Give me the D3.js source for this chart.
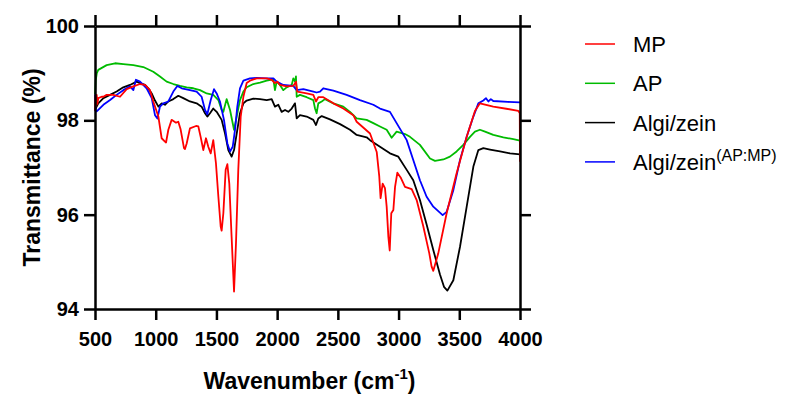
<!doctype html>
<html lang="en">
<head>
  <meta charset="utf-8">
  <title>FTIR spectra</title>
  <style>
    body { margin: 0; background: #fff; }
    svg { font-family: "Liberation Sans", Arial, sans-serif; }
  </style>
</head>
<body>
<svg id="chart"></svg>
<script src="https://d3js.org/d3.v7.min.js"></script>
<script>
var width = 788;
var height = 400;

// [wavenumber, transmittance]
var mp = [[500,98.20],[505,98.52],[510,98.30],[514,98.54],[520,98.35],[527,98.47],[555,98.50],[569,98.50],
  [596,98.54],[651,98.54],[706,98.50],[761,98.66],[816,98.72],[871,98.77],[912,98.75],[953,98.64],[980,98.40],
  [1022,98.08],[1049,97.62],[1076,97.55],[1085,97.53],[1104,97.80],[1131,98.01],[1167,97.95],[1186,97.97],
  [1205,97.81],[1233,97.41],[1241,97.39],[1255,97.51],[1282,97.83],[1332,97.88],[1351,97.87],[1370,97.65],
  [1392,97.37],[1414,97.62],[1433,97.44],[1453,97.30],[1474,97.58],[1496,97.09],[1516,96.38],[1535,95.75],
  [1543,95.66],[1557,96.03],[1576,96.95],[1590,97.07],[1606,96.66],[1625,95.53],[1645,94.37],[1661,95.39],
  [1680,96.95],[1700,98.08],[1722,98.50],[1749,98.79],[1776,98.84],[1831,98.89],[1914,98.89],[1955,98.86],
  [1982,98.79],[2001,98.82],[2023,98.75],[2078,98.72],[2133,98.73],[2155,98.82],[2166,98.61],[2243,98.57],
  [2298,98.54],[2320,98.40],[2339,98.49],[2380,98.49],[2463,98.36],[2545,98.25],[2627,98.11],[2655,97.97],
  [2765,97.72],[2820,97.33],[2841,96.81],[2852,96.35],[2869,96.66],[2888,96.56],[2902,96.17],[2916,95.53],
  [2927,95.24],[2940,96.03],[2957,96.10],[2971,96.59],[2990,96.89],[3017,96.79],[3053,96.59],[3108,96.54],
  [3149,96.31],[3204,95.75],[3253,95.18],[3272,94.90],[3286,94.81],[3327,95.18],[3396,96.03],[3478,96.88],
  [3561,97.65],[3629,98.20],[3670,98.36],[3780,98.29],[3900,98.24],[3986,98.20],[3998,98.15],[4000,97.12]];

var ap = [[500,98.55],[506,98.85],[515,99.00],[527,99.07],[596,99.17],[665,99.21],[733,99.19],[816,99.17],[898,99.13],
  [980,99.03],[1035,98.93],[1090,98.82],[1145,98.77],[1200,98.73],[1255,98.70],[1310,98.68],[1365,98.64],
  [1420,98.57],[1474,98.54],[1516,98.43],[1543,98.22],[1557,98.18],[1584,98.45],[1612,98.22],[1645,97.80],
  [1667,98.08],[1694,98.43],[1722,98.61],[1749,98.70],[1804,98.77],[1859,98.80],[1914,98.84],[1969,98.87],
  [1982,98.64],[1996,98.82],[2023,98.75],[2051,98.64],[2078,98.70],[2120,98.75],[2133,98.89],[2147,98.82],
  [2155,98.93],[2161,98.50],[2188,98.54],[2243,98.49],[2298,98.43],[2312,98.25],[2325,98.15],[2339,98.36],
  [2367,98.40],[2394,98.45],[2463,98.36],[2545,98.29],[2600,98.18],[2655,98.04],[2737,98.01],[2792,97.94],
  [2847,97.87],[2902,97.80],[2943,97.63],[2984,97.76],[3053,97.71],[3094,97.65],[3176,97.48],[3259,97.19],
  [3300,97.14],[3369,97.17],[3423,97.23],[3478,97.34],[3533,97.48],[3588,97.65],[3629,97.76],[3670,97.80],
  [3712,97.76],[3780,97.69],[3863,97.64],[3945,97.60],[4000,97.57]];

var algiZein = [[500,98.22],[527,98.36],[569,98.47],[624,98.54],[678,98.61],[733,98.70],[788,98.75],[843,98.82],
  [871,98.79],[912,98.75],[939,98.68],[967,98.57],[994,98.42],[1022,98.29],[1049,98.36],[1076,98.33],
  [1104,98.40],[1145,98.45],[1186,98.52],[1227,98.47],[1282,98.40],[1337,98.36],[1378,98.29],[1406,98.15],
  [1425,98.08],[1447,98.15],[1474,98.25],[1502,98.18],[1543,98.01],[1571,97.72],[1598,97.37],[1625,97.23],
  [1645,97.37],[1667,97.72],[1694,98.15],[1722,98.36],[1749,98.42],[1804,98.46],[1859,98.45],[1914,98.43],
  [1955,98.45],[1982,98.29],[2010,98.33],[2037,98.18],[2065,98.22],[2092,98.18],[2120,98.25],[2147,98.36],
  [2161,98.04],[2188,98.11],[2243,98.08],[2298,98.01],[2320,97.90],[2339,98.04],[2367,98.09],[2435,98.02],
  [2518,97.92],[2600,97.80],[2655,97.69],[2737,97.64],[2765,97.58],[2847,97.44],[2929,97.30],[2998,97.23],
  [3067,96.95],[3121,96.73],[3176,96.31],[3231,95.79],[3286,95.25],[3341,94.73],[3374,94.47],[3402,94.39],
  [3451,94.61],[3506,95.32],[3561,96.17],[3616,97.02],[3657,97.37],[3698,97.41],[3753,97.38],[3835,97.34],
  [3918,97.30],[4000,97.28]];

var algiZeinApMp = [[500,98.55],[505,98.20],[514,98.19],[569,98.33],[624,98.43],[678,98.54],[733,98.64],
  [788,98.72],[816,98.64],[837,98.86],[871,98.82],[925,98.68],[967,98.47],[994,98.11],[1014,98.04],[1035,98.29],
  [1063,98.36],[1104,98.40],[1145,98.61],[1178,98.73],[1214,98.68],[1282,98.64],[1337,98.61],[1378,98.50],
  [1406,98.22],[1425,98.13],[1453,98.43],[1480,98.66],[1502,98.57],[1529,98.40],[1562,98.01],[1590,97.51],
  [1612,97.34],[1634,97.44],[1653,97.80],[1672,98.29],[1694,98.68],[1722,98.84],[1776,98.89],[1831,98.90],
  [1914,98.89],[1969,98.89],[1996,98.82],[2051,98.75],[2133,98.73],[2161,98.64],[2216,98.66],[2298,98.61],
  [2325,98.59],[2353,98.61],[2380,98.68],[2463,98.63],[2572,98.54],[2682,98.43],[2792,98.33],[2847,98.25],
  [2929,98.18],[2984,97.94],[3067,97.58],[3121,97.16],[3176,96.73],[3231,96.38],[3286,96.17],[3363,95.99],
  [3396,96.06],[3451,96.52],[3506,97.16],[3561,97.65],[3616,98.08],[3657,98.36],[3698,98.42],[3720,98.47],
  [3740,98.40],[3760,98.45],[3780,98.41],[3900,98.39],[4000,98.38]];

var xTicks = [500, 1000, 1500, 2000, 2500, 3000, 3500, 4000];
var yTicks = [94, 96, 98, 100];

var series = [
  {name: "AP", data: ap, color: "#00bb00"},
  {name: "Algi/zein", data: algiZein, color: "#000000"},
  {name: "Algi/zein", sup: "(AP:MP)", data: algiZeinApMp, color: "#0000ff"},
  {name: "MP", data: mp, color: "#ff0000"}
];
var legendOrder = [3, 0, 1, 2];

var margin = {top: 26, right: 268, bottom: 91, left: 95};
var w = width - margin.left - margin.right;
var h = height - margin.top - margin.bottom;

var svg = d3.select("#chart")
  .attr("width", width)
  .attr("height", height);

var g = svg.append("g")
  .attr("transform", "translate(" + margin.left + "," + margin.top + ")");

var x = d3.scaleLinear().domain([500, 4000]).range([0, w]);
var y = d3.scaleLinear().domain([94, 100]).range([h, 0]);

var line = d3.line()
  .x(function(d) { return x(d[0]); })
  .y(function(d) { return y(d[1]); });

series.forEach(function(s) {
  g.append("path").datum(s.data)
    .attr("d", line)
    .style("fill", "none")
    .style("stroke", s.color)
    .style("stroke-width", 1.8)
    .style("stroke-linejoin", "round");
});

// frame with ticks on every side
var styleAxis = function(sel) {
  sel.selectAll("path, line").style("stroke", "#000").style("stroke-width", 2.5);
  sel.selectAll("text").style("font-size", "20px").style("font-weight", "bold").style("fill", "#000");
};
var fmt = d3.format("d");

g.append("g").attr("transform", "translate(0," + h + ")")
  .call(d3.axisBottom(x).tickValues(xTicks).tickSize(11).tickSizeOuter(0).tickPadding(12).tickFormat(fmt))
  .call(styleAxis);
g.append("g")
  .call(d3.axisTop(x).tickValues(xTicks).tickSize(11).tickSizeOuter(0).tickFormat(""))
  .call(styleAxis);
g.append("g")
  .call(d3.axisLeft(y).tickValues(yTicks).tickSize(11).tickSizeOuter(0).tickPadding(5).tickFormat(fmt))
  .call(styleAxis);
g.append("g").attr("transform", "translate(" + w + ",0)")
  .call(d3.axisRight(y).tickValues(yTicks).tickSize(11).tickSizeOuter(0).tickFormat(""))
  .call(styleAxis);

// axis titles
var xt = svg.append("text")
  .attr("x", margin.left + w / 2 + 2)
  .attr("y", 389)
  .attr("text-anchor", "middle")
  .style("font-size", "23px")
  .style("font-weight", "bold");
xt.append("tspan").text("Wavenumber (cm");
xt.append("tspan").attr("dy", -10).style("font-size", "15px").text("-1");
xt.append("tspan").attr("dy", 10).text(")");

svg.append("text")
  .attr("transform", "translate(40," + (margin.top + h / 2) + ") rotate(-90)")
  .attr("text-anchor", "middle")
  .style("font-size", "23px")
  .style("font-weight", "bold")
  .text("Transmittance (%)");

// legend
var legend = svg.append("g");
legendOrder.forEach(function(idx, i) {
  var s = series[idx];
  var ly = 44 + i * 39.3;
  legend.append("line")
    .attr("x1", 585).attr("x2", 615)
    .attr("y1", ly).attr("y2", ly)
    .style("stroke", s.color)
    .style("stroke-width", 1.5);
  var t = legend.append("text")
    .attr("x", 633)
    .attr("y", ly + 8)
    .style("font-size", "22px");
  t.append("tspan").text(s.name);
  if (s.sup) {
    t.append("tspan").attr("dy", -9).style("font-size", "16px").text(s.sup);
  }
});
</script>
</body>
</html>
